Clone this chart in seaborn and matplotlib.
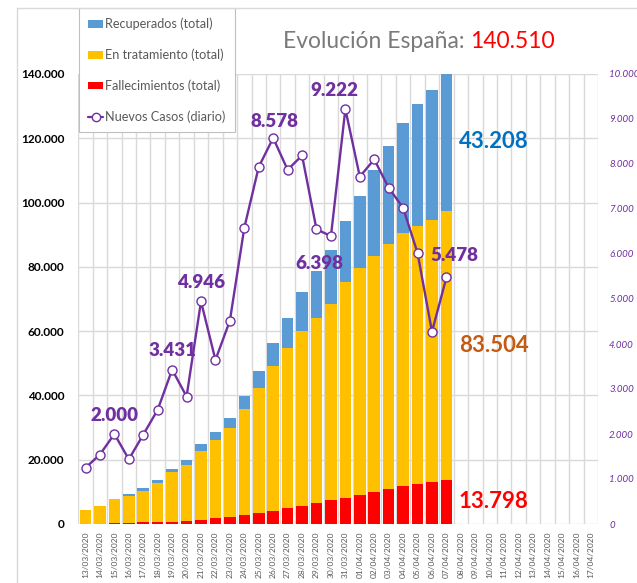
import numpy as np
import pandas as pd
import matplotlib
matplotlib.use("Agg")
import matplotlib.pyplot as plt
import seaborn as sns
from matplotlib.ticker import FuncFormatter, FixedLocator
from matplotlib.patches import Patch
from matplotlib.lines import Line2D

# ---------------- data ----------------
all_dates = [f"{d:02d}/03/2020" for d in range(13, 32)] + [f"{d:02d}/04/2020" for d in range(1, 18)]
data_dates = all_dates[:26]

fallecimientos = [120, 136, 288, 309, 491, 598, 767, 1002, 1326, 1720, 2182, 2696, 3434,
                  4089, 4858, 5690, 6528, 7340, 8189, 9053, 10003, 10935, 11744, 12418, 13055, 13798]
en_tratamiento = [4089, 5617, 7465, 8352, 9659, 12037, 15273, 17390, 21475, 24277, 27552, 33183, 38809,
                  45084, 49844, 54273, 57560, 61075, 66969, 70436, 73492, 76262, 78773, 80261, 81540, 83504]
recuperados = [0, 0, 0, 530, 1028, 1081, 1107, 1588, 2125, 2575, 3355, 3794, 5367,
               7015, 9357, 12285, 14709, 16780, 19259, 22647, 26743, 30513, 34219, 38080, 40437, 43208]
nuevos_casos = [1250, 1544, 2000, 1438, 1987, 2538, 3431, 2833, 4946, 3646, 4517, 6584, 7937,
                8578, 7871, 8189, 6549, 6398, 9222, 7719, 8102, 7472, 7026, 6023, 4273, 5478]

left_ticks = list(range(0, 140001, 20000))
right_ticks = list(range(0, 10001, 1000))

# labelled points of the daily line: date -> offset (px)
line_labels = {"15/03/2020": (0, 19), "19/03/2020": (0, 19), "21/03/2020": (0, 19),
               "26/03/2020": (1, 16), "31/03/2020": (-11, 19), "30/03/2020": (-12, -27),
               "07/04/2020": (8, 22)}

# ---------------- style ----------------
BLUE = "#5B9BD5"
YELLOW = "#FFC000"
RED = "#FF0000"
PURPLE = "#7030A0"
GRID = "#D9D9D9"
GREY_TXT = "#595959"

sns.set_style("white")
plt.rcParams["font.family"] = ["Lato", "DejaVu Sans"]

df = pd.DataFrame({
    "fecha": data_dates,
    "fall": fallecimientos,
    "trat": en_tratamiento,
    "recu": recuperados,
    "nuevos": nuevos_casos,
})
df["s_red"] = df["fall"]
df["s_yel"] = df["fall"] + df["trat"]
df["s_blu"] = df["s_yel"] + df["recu"]

W, H = 637, 583
fig = plt.figure(figsize=(W / 100, H / 100), dpi=100)
x0, x1 = 78.3 / W, 598 / W
y0, y1 = 1 - 524 / H, 1 - 74 / H
ax = fig.add_axes([x0, y0, x1 - x0, y1 - y0])
ax2 = ax.twinx()

for col, c in (("s_blu", BLUE), ("s_yel", YELLOW), ("s_red", RED)):
    sns.barplot(data=df, x="fecha", y=col, order=all_dates, color=c, saturation=1,
                width=0.8, errorbar=None, linewidth=0, edgecolor="none", ax=ax)

sns.pointplot(data=df, x="fecha", y="nuevos", order=all_dates, color=PURPLE,
              markers="o", linestyles="-", errorbar=None, ax=ax2,
              linewidth=1.7, markersize=6.5, markerfacecolor="white",
              markeredgecolor=PURPLE, markeredgewidth=1.0)

# axes
n = len(all_dates)
ax.set_xlim(-0.5, n - 0.5)
ax.set_ylim(0, 140000)
ax2.set_ylim(0, 10000)
ax.set_xticks(range(n))
ax.set_xticklabels(all_dates, rotation=90, fontsize=6, color=GREY_TXT)
ax.xaxis.set_minor_locator(FixedLocator(np.arange(-0.5, n, 1.0)))
ax.set_yticks(left_ticks)
ax2.set_yticks(right_ticks)
fmt = FuncFormatter(lambda v, p: f"{int(round(v)):,}".replace(",", "."))
ax.yaxis.set_major_formatter(fmt)
ax2.yaxis.set_major_formatter(fmt)
ax.tick_params(axis="x", which="both", length=0, pad=5.5)
ax.tick_params(axis="y", length=0, pad=10, labelsize=8.5)
for t in ax.get_yticklabels():
    t.set_fontweight("bold")
    t.set_color("black")
ax2.tick_params(axis="y", length=0, pad=8, labelsize=7, labelcolor=PURPLE)
for t in ax2.get_yticklabels():
    t.set_fontstyle("italic")
ax.set_xlabel("")
ax.set_ylabel("")
ax2.set_ylabel("")
ax2.set_xlabel("")

ax.set_axisbelow(True)
ax.grid(axis="y", which="major", color=GRID, linewidth=1)
ax.grid(axis="x", which="minor", color=GRID, linewidth=1)
ax.grid(axis="x", which="major", visible=False)
for a in (ax, ax2):
    for s in a.spines.values():
        s.set_visible(False)

# bar segment labels on last bar
last = len(data_dates) - 1
segs = [(df["s_yel"][last], df["s_blu"][last], df["recu"][last], "#0070C0"),
        (df["s_red"][last], df["s_yel"][last], df["trat"][last], "#C55A11"),
        (0, df["s_red"][last], df["fall"][last], RED)]
for lo, hi, val, c in segs:
    ax.annotate(fmt(val, None), xy=(last, (lo + hi) / 2), xytext=(9, 0),
                textcoords="offset points", ha="left", va="center",
                fontsize=16, fontweight="bold", color=c, zorder=10)

# line labels
for d, (dx, dy) in line_labels.items():
    i = data_dates.index(d)
    ax2.annotate(fmt(nuevos_casos[i], None), xy=(i, nuevos_casos[i]),
                 xytext=(dx / 1.389, dy / 1.389), textcoords="offset points",
                 ha="center", va="center", fontsize=13.5, fontweight="heavy",
                 color=PURPLE, zorder=10)

# legend
handles = [Patch(facecolor=BLUE, edgecolor="none"),
           Patch(facecolor=YELLOW, edgecolor="none"),
           Patch(facecolor=RED, edgecolor="none"),
           Line2D([0], [0], color=PURPLE, lw=1.6, marker="o", markersize=6,
                  markerfacecolor="white", markeredgecolor=PURPLE, markeredgewidth=1)]
labels = ["Recuperados (total)", "En tratamiento (total)", "Fallecimientos (total)",
          "Nuevos Casos (diario)"]
leg = ax2.legend(handles, labels, loc="upper left",
                 bbox_to_anchor=(78.7 / W, 1 - 8.3 / H), bbox_transform=fig.transFigure,
                 borderaxespad=0, fontsize=9.1, frameon=True, fancybox=False,
                 edgecolor="#BFBFBF", framealpha=1, labelspacing=1.45,
                 handlelength=1.18, handleheight=0.55, handletextpad=0.15,
                 borderpad=0.75, labelcolor=GREY_TXT)
leg.get_frame().set_linewidth(0.8)
leg.set_zorder(20)

# title
fig.canvas.draw()
r = fig.canvas.get_renderer()
ty = 1 - 42 / H
t1 = fig.text(283 / W, ty, "Evolución España:", fontsize=16.5, fontweight="normal",
              color="#7a7a7a", ha="left", va="center")
bb = t1.get_window_extent(r)
fig.text((bb.x1 + 6) / W, ty, "140.510", fontsize=16.5, fontweight="normal",
         color=RED, ha="left", va="center")

# outer chart border
fig.add_artist(Line2D([17 / W, 1.0], [1 - 8 / H, 1 - 8 / H], transform=fig.transFigure,
                      color=GRID, lw=1))
fig.add_artist(Line2D([17 / W, 17 / W], [0, 1 - 8 / H], transform=fig.transFigure,
                      color=GRID, lw=1))

fig.savefig("out.png", dpi=100)
